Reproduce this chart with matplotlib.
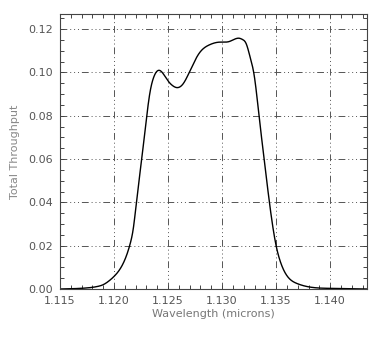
import matplotlib
matplotlib.use("Agg")
import matplotlib.pyplot as plt
import numpy as np
from matplotlib.ticker import MultipleLocator, FormatStrFormatter

wavelength = [1.1150, 1.1165, 1.1175, 1.1185, 1.1190, 1.1195, 1.1200, 1.1205, 1.1210, 1.1215,
              1.1218, 1.12207, 1.12256, 1.12303, 1.12330, 1.12365, 1.12417, 1.12494, 1.1254, 1.12586,
              1.1264, 1.12694, 1.12787, 1.1288, 1.12972, 1.13067, 1.1316, 1.1319, 1.13222, 1.13260,
              1.13296, 1.13342, 1.13389, 1.13438, 1.13500, 1.1354, 1.13583, 1.13690, 1.1378, 1.1399,
              1.1434]
throughput = [0.0000, 0.0002, 0.0005, 0.0012, 0.0020, 0.0036, 0.0058, 0.0088, 0.0135, 0.0210,
              0.0285, 0.0400, 0.0600, 0.0800, 0.0900, 0.0975, 0.1010, 0.0965, 0.0940, 0.0930,
              0.0948, 0.0998, 0.1088, 0.1127, 0.1140, 0.1143, 0.1158, 0.1152, 0.1134, 0.1070,
              0.0990, 0.0800, 0.0600, 0.0400, 0.0200, 0.0125, 0.0075, 0.0026, 0.0012, 0.0003,
              0.0000]

x_ticks = [1.115, 1.120, 1.125, 1.130, 1.135, 1.140]
y_ticks = [0.00, 0.02, 0.04, 0.06, 0.08, 0.10, 0.12]

fig = plt.figure(figsize=(3.74, 3.40), dpi=100)
ax = fig.add_axes([0.1604, 0.15, 0.981 - 0.1604, 0.9588 - 0.15])

xs = np.array(wavelength)
ys = np.array(throughput)

def natural_spline(x, y, xn):
    n = len(x)
    h = np.diff(x)
    A = np.zeros((n, n)); b = np.zeros(n)
    A[0, 0] = 1; A[-1, -1] = 1
    for i in range(1, n - 1):
        A[i, i-1] = h[i-1]; A[i, i] = 2*(h[i-1] + h[i]); A[i, i+1] = h[i]
        b[i] = 6*((y[i+1]-y[i])/h[i] - (y[i]-y[i-1])/h[i-1])
    M = np.linalg.solve(A, b)
    idx = np.clip(np.searchsorted(x, xn) - 1, 0, n - 2)
    x0 = x[idx]; x1 = x[idx+1]; hh = h[idx]
    return (M[idx]*(x1-xn)**3/(6*hh) + M[idx+1]*(xn-x0)**3/(6*hh)
            + (y[idx]/hh - M[idx]*hh/6)*(x1-xn) + (y[idx+1]/hh - M[idx+1]*hh/6)*(xn-x0))

xn = np.linspace(xs[0], xs[-1], 2000)
yn = np.clip(natural_spline(xs, ys, xn), 0, None)
ax.plot(xn, yn, color="black", lw=1.0)

ax.set_xlim(1.115, 1.1434)
ax.set_ylim(0.0, 0.127)
ax.set_xticks(x_ticks)
ax.set_yticks(y_ticks)
ax.xaxis.set_major_formatter(FormatStrFormatter("%.3f"))
ax.yaxis.set_major_formatter(FormatStrFormatter("%.2f"))
ax.xaxis.set_minor_locator(MultipleLocator(0.001))
ax.yaxis.set_minor_locator(MultipleLocator(0.005))

ax.grid(True, which="major", color="#555555", lw=0.7,
        linestyle=(0, (7, 3, 1, 3, 1, 3, 1, 3)))
ax.tick_params(which="both", direction="in", top=True, right=True, length=3,
               width=0.7, color="#444444", labelsize=8, labelcolor="#555555", pad=5)
for s in ax.spines.values():
    s.set_color("#444444")
    s.set_linewidth(0.8)

ax.set_xlabel("Wavelength (microns)", fontsize=8, color="#777777", labelpad=2)
ax.set_ylabel("Total Throughput", fontsize=8, color="#888888", labelpad=6)

fig.savefig("out.png", dpi=100)
